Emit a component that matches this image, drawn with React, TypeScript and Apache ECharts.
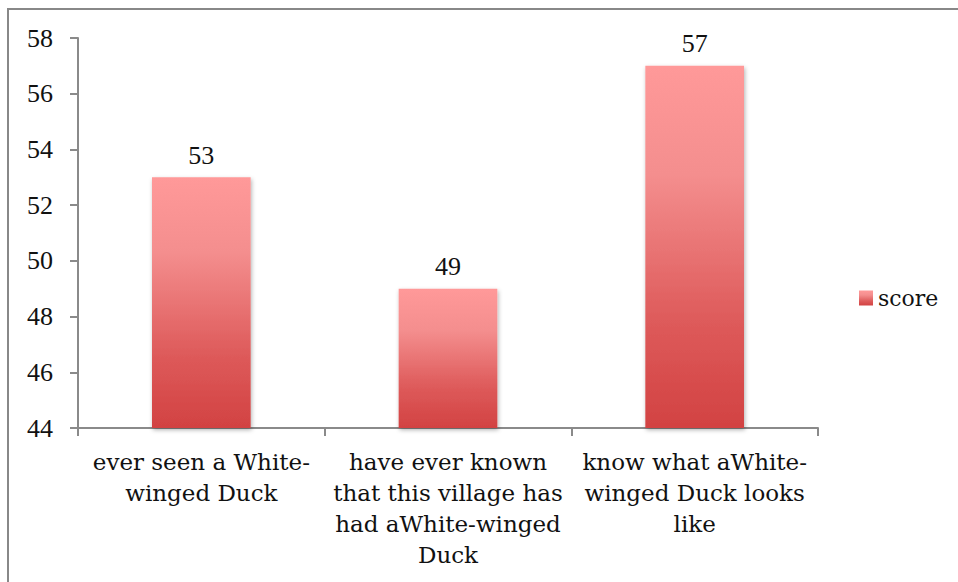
import React, { useEffect, useRef } from "react";
import * as echarts from "echarts";

const categories = [
  "ever seen a White-\nwinged Duck",
  "have ever known\nthat this village has\nhad aWhite-winged\nDuck",
  "know what aWhite-\nwinged Duck looks\nlike",
];
const scores = [53, 49, 57];
const seriesName = "score";
const yMin = 44;
const yMax = 58;
const yStep = 2;

const FONT = "DejaVu Serif";
const NUM_FONT = "Liberation Serif";

export default function App() {
  const ref = useRef<HTMLDivElement>(null);
  useEffect(() => {
    if (!ref.current) return;
    document.body.style.margin = "0";
    const chart = echarts.init(ref.current, null, { renderer: "svg" });
    const grad = new echarts.graphic.LinearGradient(0, 0, 0, 1, [
      { offset: 0, color: "#FF9999" },
      { offset: 0.3, color: "#F48E8E" },
      { offset: 0.7, color: "#DE5B5B" },
      { offset: 1, color: "#D24242" },
    ]);
    chart.setOption({
      animation: false,
      backgroundColor: "#fff",
      textStyle: { fontFamily: FONT },
      graphic: [
        {
          type: "polyline",
          shape: { points: [[8, 582], [8, 9], [958, 9]] },
          style: { stroke: "#888", lineWidth: 2, fill: "none" },
          silent: true,
        },
      ],
      grid: { left: 78, right: 140, top: 38, bottom: 154 },
      legend: {
        data: [seriesName],
        left: 854,
        top: 282,
        icon: "rect",
        itemWidth: 14,
        itemHeight: 15,
        textStyle: { fontFamily: FONT, fontSize: 22, color: "#111" },
      },
      xAxis: {
        type: "category",
        data: categories,
        axisLine: { lineStyle: { color: "#8a8a8a", width: 2 } },
        axisTick: { show: true, length: 8, alignWithLabel: false, lineStyle: { color: "#8a8a8a", width: 2 } },
        axisLabel: {
          interval: 0,
          margin: 18,
          fontFamily: FONT,
          fontSize: 23,
          lineHeight: 31,
          color: "#111",
          align: "center",
        },
      },
      yAxis: {
        type: "value",
        min: yMin,
        max: yMax,
        interval: yStep,
        splitLine: { show: false },
        axisLine: { show: true, lineStyle: { color: "#8a8a8a", width: 2 } },
        axisTick: { show: true, length: 8, lineStyle: { color: "#8a8a8a", width: 2 } },
        axisLabel: { margin: 25, fontFamily: NUM_FONT, fontSize: 26, color: "#111" },
      },
      series: [
        {
          name: seriesName,
          type: "bar",
          data: scores,
          barWidth: "40%",
          itemStyle: {
            color: grad,
            shadowColor: "rgba(0,0,0,0.3)",
            shadowBlur: 4,
            shadowOffsetX: 1,
            shadowOffsetY: 2,
          },
          label: {
            show: true,
            position: "top",
            distance: 9,
            fontFamily: NUM_FONT,
            fontSize: 26,
            color: "#111",
          },
        },
      ],
    });
    return () => chart.dispose();
  }, []);
  return (
    <div
      ref={ref}
      style={{ position: "fixed", left: 0, top: 0, width: 958, height: 582 }}
    />
  );
}
